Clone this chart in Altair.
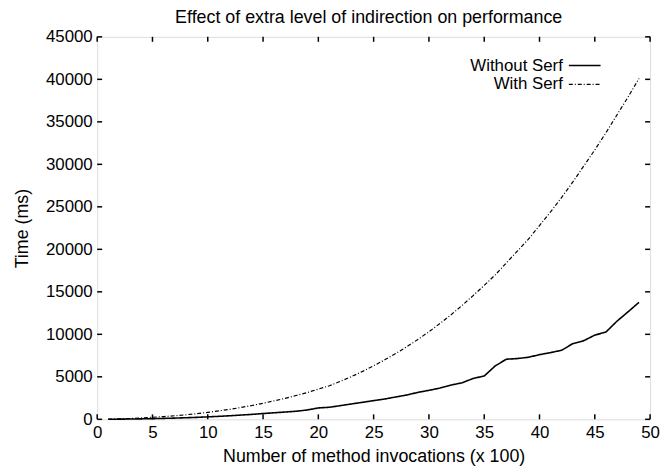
import altair as alt
import pandas as pd

# ---- data ----
invocations = list(range(1, 50))
without_serf = [10, 20, 35, 55, 80, 110, 145, 185, 230, 290,
                350, 420, 500, 580, 680, 770, 860, 950, 1100, 1340,
                1420, 1610, 1810, 2000, 2200, 2390, 2630, 2860, 3170, 3410,
                3680, 4030, 4300, 4810, 5100, 6290, 7070, 7150, 7300, 7610,
                7850, 8120, 8900, 9250, 9910, 10260, 11540, 12640, 13770]
with_serf = [30, 60, 100, 160, 240, 320, 420, 530, 670, 820,
             990, 1180, 1390, 1630, 1890, 2170, 2470, 2800, 3150, 3560,
             3950, 4470, 5030, 5640, 6300, 7000, 7740, 8540, 9400, 10300,
             11280, 12300, 13400, 14560, 15750, 17000, 18400, 19800, 21200, 22800,
             24400, 26100, 27900, 29800, 31700, 33700, 35800, 37900, 40100]
series_names = ["Without Serf", "With Serf"]
x_ticks = [0, 5, 10, 15, 20, 25, 30, 35, 40, 45, 50]
y_ticks = [0, 5000, 10000, 15000, 20000, 25000, 30000, 35000, 40000, 45000]
chart_title = ["Effect of extra level of indirection on performance"]

FONT = "Liberation Sans"
W, H = 558, 386

df = pd.DataFrame({
    "n": invocations * 2,
    "t": without_serf + with_serf,
    "series": [series_names[0]] * len(invocations) + [series_names[1]] * len(invocations),
})
xt = pd.DataFrame({"v": x_ticks})
yt = pd.DataFrame({"v": y_ticks})
leg = pd.DataFrame({"series": series_names})
ttl = pd.DataFrame({"title": chart_title})

xscale = alt.Scale(domain=[0, 50], nice=False, zero=False)
yscale = alt.Scale(domain=[0, 45000], nice=False)

x_axis = alt.Axis(values=x_ticks, format="d", tickSize=0, labelPadding=18, labelBaseline="alphabetic",
                  labelFontSize=17, labelFont=FONT, labelColor="black",
                  title="Number of method invocations (x 100)", titleFont=FONT,
                  titleFontSize=18, titleFontWeight="normal", titleColor="black",
                  titleBaseline="alphabetic", titleY=43, grid=False, domain=False,
                  labelFlush=False, labelOverlap=False)
y_axis = alt.Axis(values=y_ticks, format="d", tickSize=0, labelPadding=5,
                  labelFontSize=17, labelFont=FONT, labelColor="black",
                  title="Time (ms)", titleFont=FONT, titleFontSize=18,
                  titleFontWeight="normal", titleColor="black",
                  titleBaseline="alphabetic", titleX=-70, grid=False, domain=False,
                  labelFlush=False, labelOverlap=False)

X = alt.X("n:Q", scale=xscale, axis=x_axis)
Y = alt.Y("t:Q", scale=yscale, axis=y_axis)

dash_scale = alt.Scale(domain=series_names, range=[[1, 0], [4, 2, 1, 2]])
width_scale = alt.Scale(domain=series_names, range=[1.6, 1.2])
dash = alt.StrokeDash("series:N", scale=dash_scale, legend=None)
width_enc = alt.StrokeWidth("series:N", scale=width_scale, legend=None)

lines = alt.Chart(df).mark_line(color="black").encode(
    x=X, y=Y, strokeDash=dash, strokeWidth=width_enc, detail="series:N"
)

TX = alt.X("v:Q", scale=xscale, axis=x_axis)
TY = alt.Y("v:Q", scale=yscale, axis=y_axis)
tick_len = 5
bottom_ticks = alt.Chart(xt).mark_rule(color="black", strokeWidth=1.5).encode(
    x=TX, y=alt.value(H), y2=alt.value(H - tick_len))
top_ticks = alt.Chart(xt).mark_rule(color="black", strokeWidth=1.5).encode(
    x=TX, y=alt.value(0), y2=alt.value(tick_len))
left_ticks = alt.Chart(yt).mark_rule(color="black", strokeWidth=1.5).encode(
    y=TY, x=alt.value(0), x2=alt.value(tick_len))
right_ticks = alt.Chart(yt).mark_rule(color="black", strokeWidth=1.5).encode(
    y=TY, x=alt.value(W), x2=alt.value(W - tick_len))

# legend (label left, sample right, as in the reference)
legend_layers = []
for name, row_y in zip(series_names, [29, 48]):
    base = alt.Chart(leg).transform_filter(alt.datum.series == name)
    legend_layers.append(base.mark_text(align="right", baseline="middle", font=FONT,
                                        fontSize=17, color="black").encode(
        y=alt.value(row_y), x=alt.value(470), text="series:N"))
    legend_layers.append(base.mark_rule(color="black").encode(
        y=alt.value(row_y), x=alt.value(476), x2=alt.value(508),
        strokeDash=dash, strokeWidth=width_enc))

# chart title, placed above the frame
title_layer = alt.Chart(ttl).mark_text(align="center", baseline="alphabetic", font=FONT,
                                       fontSize=18, color="black").encode(
    x=alt.value(W / 2 - 5), y=alt.value(-14), text="title:N")

chart = alt.layer(
    lines, bottom_ticks, top_ticks, left_ticks, right_ticks, *legend_layers, title_layer
).properties(
    width=W, height=H,
    padding={"left": 90, "top": 27, "right": 10, "bottom": 45},
    autosize=alt.AutoSizeParams(type="none"),
).configure_view(stroke="black", strokeWidth=2).configure(background="white")

chart.save("out.html", embed_options={"renderer": "svg", "actions": False})
